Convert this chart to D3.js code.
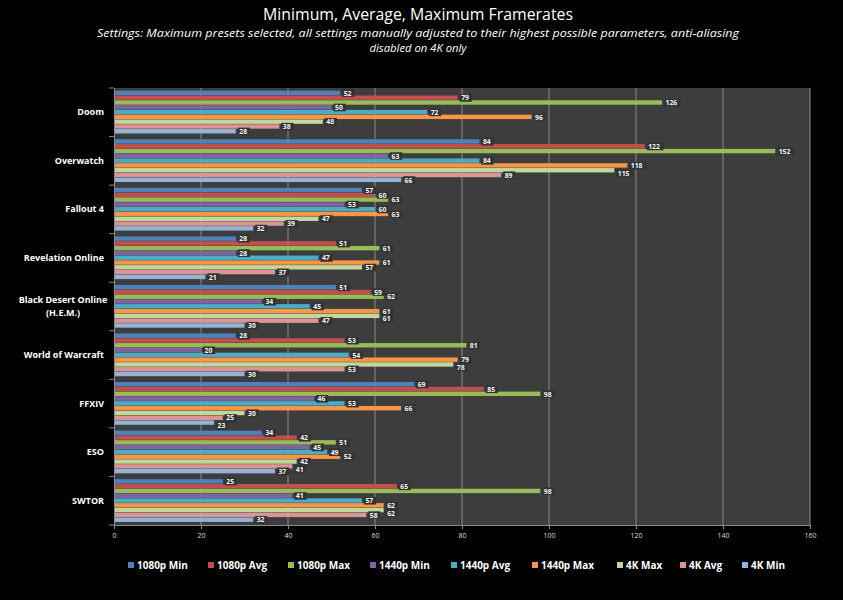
<!DOCTYPE html>
<html>
<head>
<meta charset="utf-8">
<script src="https://cdn.jsdelivr.net/npm/d3@7/dist/d3.min.js"></script>
<style>
html,body{margin:0;padding:0;background:#000;}
svg{display:block;}
</style>
</head>
<body>
<svg id="chart" width="843" height="600"></svg>
<script>
const games = ["Doom","Overwatch","Fallout 4","Revelation Online","Black Desert Online|(H.E.M.)","World of Warcraft","FFXIV","ESO","SWTOR"];
const seriesNames = ["1080p Min","1080p Avg","1080p Max","1440p Min","1440p Avg","1440p Max","4K Max","4K Avg","4K Min"];
const seriesColors = ["#4f81bd","#c0504d","#9bbb59","#8064a2","#4bacc6","#f79646","#c3d69b","#d99694","#95b3d7"];
const fps1080Min = [52,84,57,28,51,28,69,34,25];
const fps1080Avg = [79,122,60,51,59,53,85,42,65];
const fps1080Max = [126,152,63,61,62,81,98,51,98];
const fps1440Min = [50,63,53,28,34,20,46,45,41];
const fps1440Avg = [72,84,60,47,45,54,53,49,57];
const fps1440Max = [96,118,63,61,61,79,66,52,62];
const fps4KMax = [48,115,47,57,61,78,30,42,62];
const fps4KAvg = [38,89,39,37,47,53,25,41,58];
const fps4KMin = [28,66,32,21,30,30,23,37,32];
const xTicks = [0,20,40,60,80,100,120,140,160];
const seriesValues = [fps1080Min,fps1080Avg,fps1080Max,fps1440Min,fps1440Avg,fps1440Max,fps4KMax,fps4KAvg,fps4KMin];

const svg = d3.select("#chart");
const L = 114, R = 810, T = 88, B = 525;

svg.append("rect").attr("x",0).attr("y",0).attr("width",843).attr("height",600).attr("fill","#000");

// titles
svg.append("text").attr("x",418).attr("y",20).attr("text-anchor","middle")
  .attr("fill","#fff").attr("font-family","Open Sans, sans-serif").attr("font-size",15.5)
  .attr("textLength",310).attr("lengthAdjust","spacingAndGlyphs")
  .text("Minimum, Average, Maximum Framerates");
svg.append("text").attr("x",418).attr("y",37).attr("text-anchor","middle")
  .attr("fill","#fff").attr("font-family","Open Sans, sans-serif").attr("font-size",11.5).attr("font-style","italic")
  .attr("textLength",642).attr("lengthAdjust","spacingAndGlyphs")
  .text("Settings:  Maximum  presets selected, all settings manually adjusted to their highest possible parameters, anti-aliasing");
svg.append("text").attr("x",418).attr("y",52).attr("text-anchor","middle")
  .attr("fill","#fff").attr("font-family","Open Sans, sans-serif").attr("font-size",11.5).attr("font-style","italic")
  .attr("textLength",97).attr("lengthAdjust","spacingAndGlyphs")
  .text("disabled on 4K only");

const x = d3.scaleLinear().domain([0,160]).range([L,R]);
const y = d3.scaleBand().domain(games).range([T,B]);
const yi = d3.scaleBand().domain(seriesNames).range([2.7, y.bandwidth()-2.7]);

svg.append("rect").attr("x",L).attr("y",T).attr("width",R-L).attr("height",B-T).attr("fill","#3d3d3d");

// gridlines
svg.append("g").selectAll("line").data(xTicks.slice(1)).join("line")
  .attr("x1",d=>x(d)).attr("x2",d=>x(d)).attr("y1",T).attr("y2",B)
  .attr("stroke","#8a8a8a").attr("stroke-width",1);

// x axis
const xAxis = svg.append("g").attr("transform",`translate(0,${B})`)
  .call(d3.axisBottom(x).tickValues(xTicks).tickSize(4).tickFormat(d3.format("d")));
xAxis.select(".domain").attr("stroke","#8a8a8a");
xAxis.selectAll(".tick line").attr("stroke","#8a8a8a");
xAxis.selectAll("text").attr("fill","#ddd").attr("font-family","Open Sans, sans-serif").attr("font-size",7).attr("dy","0.9em");

// y axis line and ticks at category boundaries
svg.append("line").attr("x1",L+0.5).attr("x2",L+0.5).attr("y1",T).attr("y2",B).attr("stroke","#8a8a8a");
const bounds = games.map(g=>y(g)).concat([B]);
svg.append("g").selectAll("line").data(bounds).join("line")
  .attr("x1",L-5).attr("x2",L).attr("y1",d=>d).attr("y2",d=>d).attr("stroke","#8a8a8a");

// category labels
const ylab = svg.append("g");
games.forEach(g=>{
  const lines = g.split("|");
  const cy = y(g)+y.bandwidth()/2;
  const t = ylab.append("text").attr("fill","#fff")
    .attr("font-family","Open Sans, sans-serif").attr("font-size",9).attr("font-weight","bold");
  lines.forEach((ln,i)=>{
    t.append("tspan").attr("x", lines.length>1 ? 63 : 104).attr("text-anchor", lines.length>1?"middle":"end")
      .attr("y", cy + 3 + (i-(lines.length-1)/2)*13).text(ln);
  });
});

// bars
const bars = svg.append("g");
seriesNames.forEach((s,si)=>{
  const vals = seriesValues[si];
  const grp = bars.append("g");
  grp.selectAll("rect").data(games).join("rect")
    .attr("x",x(0)+1)
    .attr("y",(g)=>y(g)+yi(s))
    .attr("width",(g,i)=>x(vals[i])-x(0)-1)
    .attr("height",yi.bandwidth()-0.4)
    .attr("fill",seriesColors[si]);
});

// labels (nudged down when they would collide with the label above)
const labs = svg.append("g");
games.forEach((g,i)=>{
  const placed = [];
  seriesNames.forEach((s,si)=>{
    const v = seriesValues[si][i];
    const txt = String(v);
    const w = txt.length*4.6+3;
    const lx = x(v)+2;
    let ly = y(g)+yi(s)+yi.bandwidth()/2;
    placed.forEach(p=>{
      if (lx < p.x + p.w && lx + w > p.x && ly < p.y + 7.5) ly = p.y + 7.5;
    });
    placed.push({x:lx,y:ly,w:w});
    labs.append("rect").attr("x",lx).attr("y",ly-3.8).attr("width",w).attr("height",7.6).attr("fill","#333");
    labs.append("text").attr("x",lx+1.5).attr("y",ly+2.5).attr("fill","#f2f2f2")
      .attr("font-family","Open Sans, sans-serif").attr("font-size",6.8).attr("font-weight","bold").text(txt);
  });
});

// legend
const legX = [128,208,288,370,451,532,617,680,742];
const leg = svg.append("g");
seriesNames.forEach((s,i)=>{
  leg.append("rect").attr("x",legX[i]).attr("y",562).attr("width",6).attr("height",6).attr("fill",seriesColors[i]);
  leg.append("text").attr("x",legX[i]+9).attr("y",569).attr("fill","#fff")
    .attr("font-family","Open Sans, sans-serif").attr("font-size",10).attr("font-weight","bold").text(s);
});
</script>
</body>
</html>
